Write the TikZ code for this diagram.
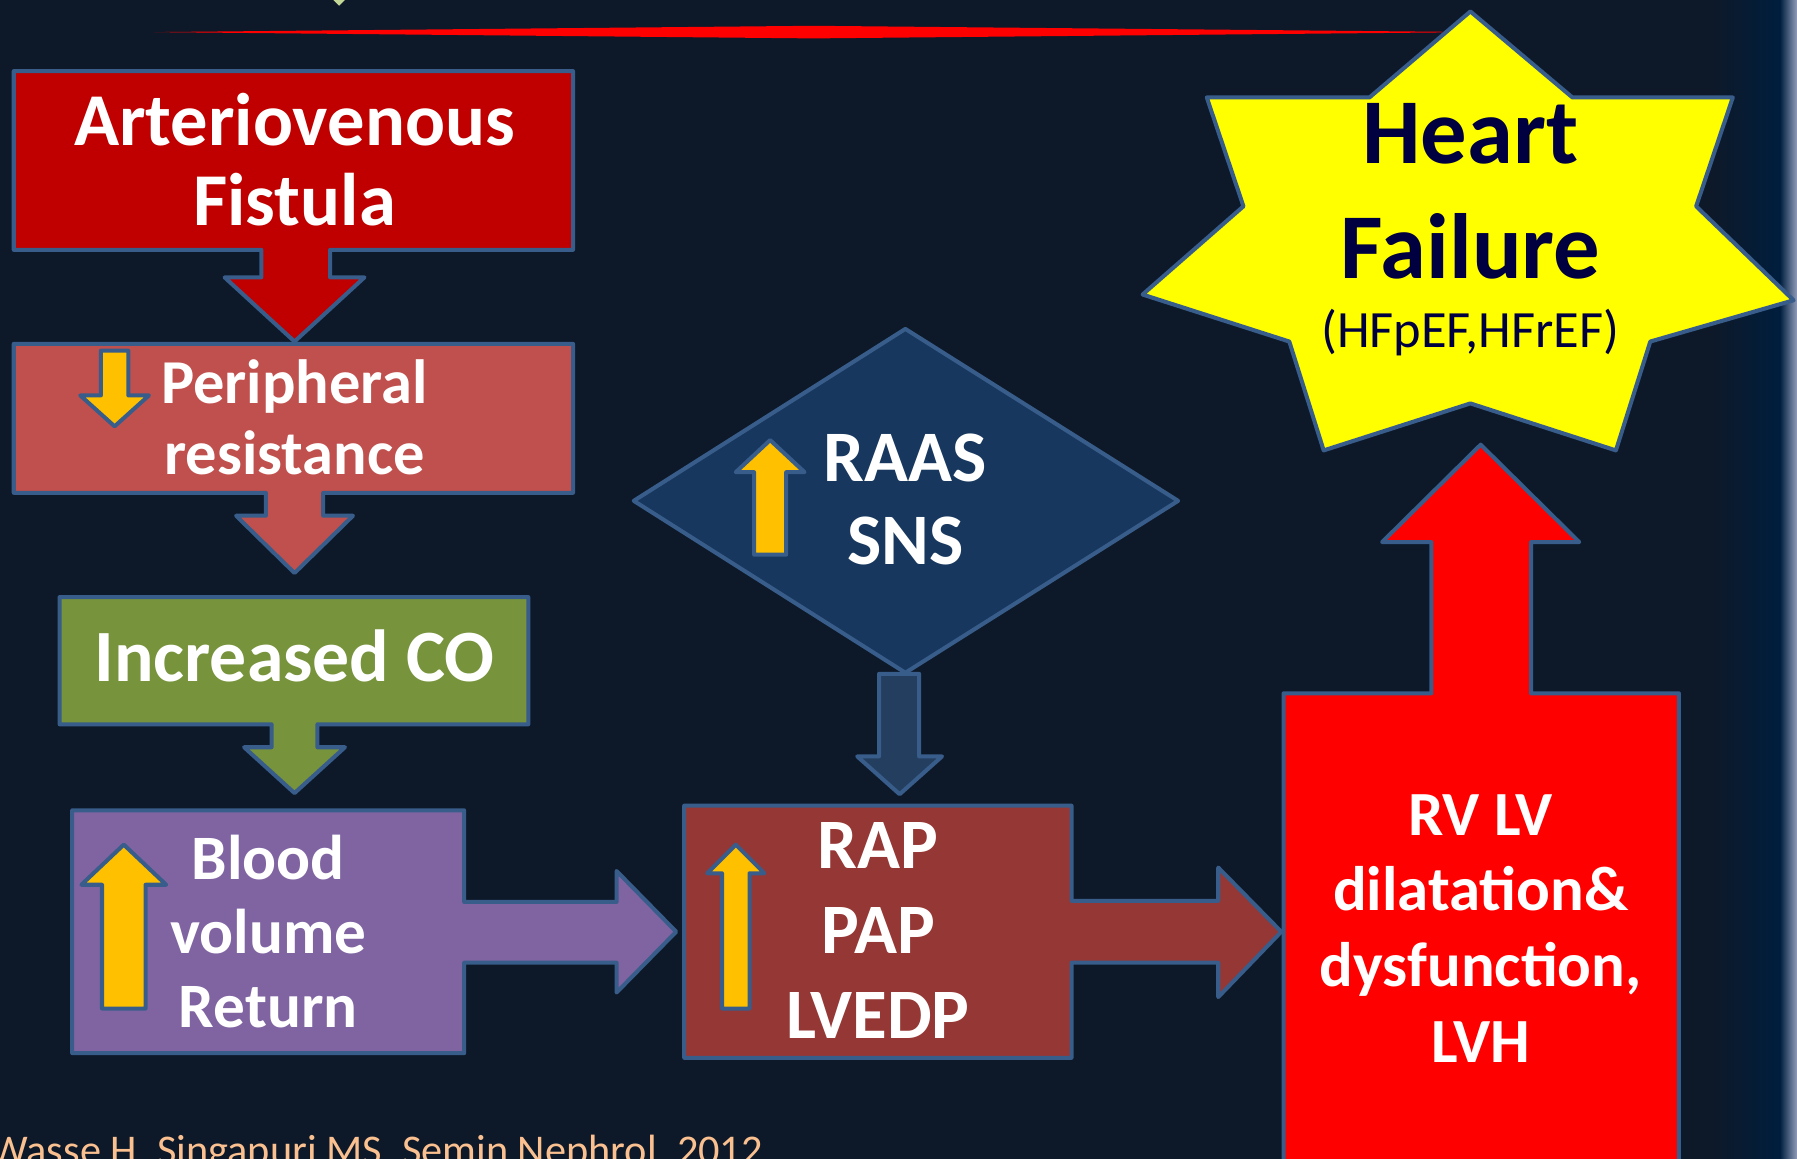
\documentclass[tikz,border=0pt]{standalone}
\usepackage{fontspec}
\setmainfont{Carlito}
\definecolor{bg}{RGB}{13,25,41}
\definecolor{edge}{RGB}{56,93,138}
\definecolor{avred}{RGB}{192,0,0}
\definecolor{prred}{RGB}{192,80,77}
\definecolor{cogreen}{RGB}{119,147,60}
\definecolor{bvpurple}{RGB}{128,100,162}
\definecolor{rapred}{RGB}{149,55,53}
\definecolor{raasblue}{RGB}{23,55,94}
\definecolor{raasarrow}{RGB}{36,62,96}
\definecolor{hfyellow}{RGB}{255,255,0}
\definecolor{hfnavy}{RGB}{0,0,64}
\definecolor{gold}{RGB}{255,192,0}
\definecolor{peach}{RGB}{250,192,144}
\definecolor{stripnavy}{RGB}{0,30,62}
\definecolor{stripedge}{RGB}{150,160,190}
\definecolor{blobgreen}{RGB}{195,215,150}
\newcommand\goldup[6]{% cx, tip y, head base y, head half, stem half, stem end y
  \draw[shp, fill=gold] (#1,#2) -- ({#1+#4},#3) -- ({#1+#5},#3) -- ({#1+#5},#6)
    -- ({#1-#5},#6) -- ({#1-#5},#3) -- ({#1-#4},#3) -- cycle;}
\begin{document}
\begin{tikzpicture}[x=0.01cm, y=-0.01cm,
  shp/.style={draw=edge, line width=1pt, line join=round},
  lbl/.style={text=white, font=\bfseries, align=center, inner sep=0pt}]
\useasboundingbox (0,0) rectangle (1568,1011);
\fill[bg] (0,0) rectangle (1568,1011);
% right edge strip
\shade[left color=bg, right color=stripnavy] (1495,0) rectangle (1553,1011);
\shade[left color=stripnavy, right color=stripedge] (1553,0) rectangle (1568.5,1011);
% top decorations
\fill[blobgreen] (291,0) -- (301,0) -- (296,5) -- cycle;
\fill[red] (135,28) -- (710,22.5) -- (1290,28) -- (710,33.5) -- cycle;

% star
\draw[shp, fill=hfyellow] (1283,10) -- (1372,85) -- (1512,85) -- (1480,180) -- (1565,262)
  -- (1440,298) -- (1410,393) -- (1283,352) -- (1155,393) -- (1125,298) -- (997,257)
  -- (1085,180) -- (1053,85) -- (1195,85) -- cycle;
\node[font=\bfseries\fontsize{23}{28.5}\selectfont, text=hfnavy, align=center, inner sep=0pt]
  (hf) at (1283,167) {Heart\\Failure};
\node[font=\fontsize{13}{15}\selectfont, text=hfnavy, inner sep=0pt] (hftype) at (1283,290) {(HFpEF,HFrEF)};

% RV LV box with up arrow
\draw[shp, fill=red] (1120,1030) -- (1120,605) -- (1249,605) -- (1249,473) -- (1206,473)
  -- (1292,388) -- (1378,473) -- (1336,473) -- (1336,605) -- (1465,605) -- (1465,1030);
\node[lbl, font=\bfseries\fontsize{15.6}{18.8}\selectfont] (rv) at (1292,810)
  {RV LV\\dilatation\&\\dysfunction,\\LVH};

% Arteriovenous fistula
\draw[shp, fill=avred] (12,62) -- (500,62) -- (500,218) -- (288,218) -- (288,242) -- (318,242)
  -- (257,298) -- (196,242) -- (228,242) -- (228,218) -- (12,218) -- cycle;
\node[lbl, font=\bfseries\fontsize{18.5}{19.9}\selectfont] (av) at (257,139) {Arteriovenous\\Fistula};

% Peripheral resistance
\draw[shp, fill=prred] (12,300) -- (500,300) -- (500,430) -- (282,430) -- (282,450) -- (308,450)
  -- (257,500) -- (206,450) -- (232,450) -- (232,430) -- (12,430) -- cycle;
\draw[shp, fill=gold] (100,372) -- (130,345) -- (112,345) -- (112,306) -- (88,306) -- (88,345) -- (70,345) -- cycle;
\node[lbl, font=\bfseries\fontsize{15.5}{17.6}\selectfont] (pr) at (257,364) {Peripheral\\resistance};

% Increased CO
\draw[shp, fill=cogreen] (52,521) -- (461,521) -- (461,632) -- (277,632) -- (277,652) -- (301,652)
  -- (257,692) -- (213,652) -- (237,652) -- (237,632) -- (52,632) -- cycle;
\node[lbl, font=\bfseries\fontsize{18.3}{20}\selectfont] (co) at (257,572) {Increased CO};

% Blood volume return
\draw[shp, fill=bvpurple] (63,707) -- (405,707) -- (405,787) -- (538,787) -- (538,760) -- (590,813)
  -- (538,866) -- (538,840) -- (405,840) -- (405,919) -- (63,919) -- cycle;
\goldup{108}{737}{772}{37}{19}{880}
\node[lbl, font=\bfseries\fontsize{15.7}{18.35}\selectfont] (bv) at (234,813) {Blood\\volume\\Return};

% RAAS SNS diamond
\draw[shp, fill=raasblue] (790,287) -- (1028,437) -- (790,587) -- (553,437) -- cycle;
\goldup{672}{384}{412}{30}{14}{484}
\node[lbl, font=\bfseries\fontsize{18}{20.5}\selectfont] (raas) at (790,436) {RAAS\\SNS};
\draw[shp, fill=raasarrow] (767,588) -- (802,588) -- (802,660) -- (822,660) -- (785,693)
  -- (748,660) -- (767,660) -- cycle;

% RAP PAP LVEDP
\draw[shp, fill=rapred] (597,703) -- (935,703) -- (935,786) -- (1063,786) -- (1063,757) -- (1118,813)
  -- (1063,870) -- (1063,840) -- (935,840) -- (935,923) -- (597,923) -- cycle;
\goldup{642}{737}{762}{25}{12}{880}
\node[lbl, font=\bfseries\fontsize{17.6}{21}\selectfont] (rap) at (766,812) {RAP\\PAP\\LVEDP};

% citation
\node[anchor=base west, inner sep=0pt, text=peach, font=\fontsize{10.5}{12}\selectfont]
  (cite) at (-9,1016) {Wasse H, Singapuri MS, Semin Nephrol, 2012};
\end{tikzpicture}
\end{document}
